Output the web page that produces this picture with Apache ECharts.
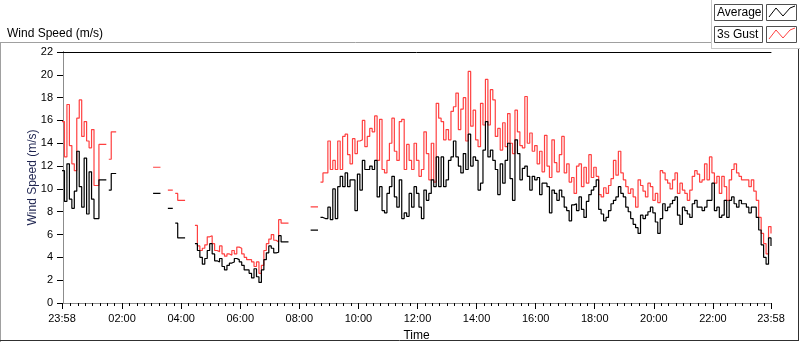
<!DOCTYPE html>
<html>
<head>
<meta charset="utf-8">
<script src="https://cdn.jsdelivr.net/npm/echarts@6/dist/echarts.min.js"></script>
<style>
html,body{margin:0;padding:0;background:#fff;}
#chart{width:800px;height:342px;}
</style>
</head>
<body>
<div id="chart"></div>
<script>
// Sampling of the series: minutes after 00:00 (first sample at 23:58 of the previous day)
const startMinute = -2;
const stepMinutes = 5;

// "Average" wind speed (m/s), one value per 5 minutes, null = no data
const averageSpeed = [
  11.6, 8.9, 12.2, 9.1, 8.3, 9.8, 13.3, 10.2, 8.4, 12.7, 7.8, 11.5, 9.1, 7.4, 7.4,
  10.8, 10.8, 10.8, null,
  9.9, 11.35, 11.35,
  null, null, null, null, null, null, null, null, null, null, null, null, null, null, null,
  9.6, 9.6, 9.6,
  null, null, null,
  8.3, 8.3,
  null,
  7.0, 5.7, 5.7, 5.7,
  null, null, null, null,
  5.2, 4.6, 4.0, 3.4, 3.9, 4.6, 5.2, 4.3, 3.7, 3.6,
  3.9, 3.2, 2.9, 3.3, 3.5, 3.6, 3.9, 3.8, 3.6, 3.3,
  2.9, 2.9, 2.6, 2.2, 3.0, 2.3, 1.8, 2.9, 3.8, 4.4,
  5.0, 4.8, 4.4,
  4.45, 5.9, 5.35, 5.35, 5.35,
  null, null, null, null, null, null, null, null, null,
  6.38, 6.38, 6.38,
  null,
  7.5, 7.4, 7.4, 8.4, 7.3, 10.0, 7.4, 10.2, 11.1, 10.2,
  11.4, 10.2, 10.8, 10.8, 8.1, 11.3, 9.9, 12.5, 11.7, 11.7,
  12.0, 11.7, 12.5, 9.3, 10.2, 8.1, 7.9, 9.6, 10.2, 11.1,
  9.3, 8.4, 10.8, 7.4, 7.9, 7.6, 9.6, 8.4, 10.2, 9.6,
  8.4, 7.4, 9.9, 9.0, 9.6, 10.8, 10.2, 12.8, 10.2, 12.8,
  10.2, 10.8, 12.5, 12.8, 14.2, 12.8, 12.0, 11.4, 13.1, 11.7,
  14.8, 12.0, 12.8, 12.5, 9.9, 10.5, 13.4, 15.9, 12.8, 13.4,
  12.5, 11.7, 9.5, 12.2, 10.5, 12.5, 14.0, 10.9, 9.0, 14.3,
  13.1, 10.8, 11.8, 12.0, 11.1, 9.9, 11.1, 10.8, 11.0, 9.5,
  10.5, 10.5, 10.2, 7.9, 9.9, 9.6, 9.0, 9.9, 9.3, 8.4,
  8.1, 7.2,
  8.6, 8.7, 8.1, 9.3, 8.2, 7.5, 8.9, 9.5, 9.9, 10.2,
  10.8, 8.2, 7.8, 7.2, 7.5, 8.1, 8.7, 9.0, 9.3, 10.2,
  9.6, 9.3, 8.4, 8.0, 7.4, 6.9, 6.6, 6.1, 7.7, 7.4,
  7.7, 8.0, 8.4, 7.9, 7.1, 6.1, 7.4, 8.7, 8.1, 8.4,
  8.7, 9.0, 9.3, 7.7, 6.9, 8.4, 8.1, 7.8, 7.5, 8.7,
  9.0, 8.4, 8.4, 8.1, 8.4, 9.0, 9.0, 10.5, 8.1, 8.4,
  7.5, 7.7, 9.0, 7.5, 9.0, 9.3, 8.7, 8.4, 9.0, 8.7,
  8.7, 8.4, 7.9, 8.4, 8.4, 7.5, 6.4, 5.1, 4.0, 3.4,
  5.7, 5.0
];

// "3s Gust" wind speed (m/s)
const gustSpeed = [
  15.9, 12.8, 17.4, 13.8, 12.2, 11.6, 16.2, 17.8, 14.6, 15.9, 14.2, 13.6, 15.2, 10.3, 10.3,
  13.9, 13.9, 13.9, null,
  12.6, 15.0, 15.0,
  null, null, null, null, null, null, null, null, null, null, null, null, null, null, null,
  11.9, 11.9, 11.9,
  null, null, null,
  9.9, 9.9,
  null,
  9.6, 9.0, 9.0, 9.0,
  null, null, null, null,
  6.8, 5.0, 4.6, 4.8, 5.1, 5.8, 5.9, 5.2, 4.6, 4.5,
  5.0, 4.3, 4.1, 4.3, 4.2, 4.6, 4.3, 4.9, 4.8, 4.3,
  4.0, 3.8, 3.8, 3.6, 3.2, 3.6, 2.6, 3.3, 4.6, 5.2,
  5.6, 6.0, 5.5,
  5.35, 7.3, 7.0, 7.0, 7.0,
  null, null, null, null, null, null, null, null, null,
  8.43, 8.43, 8.43,
  null,
  10.6, 11.4, 11.4, 14.2, 11.7, 12.5, 11.7, 14.2, 11.7, 14.6,
  14.8, 13.0, 12.2, 14.4, 13.1, 14.2, 14.3, 16.0, 13.7, 14.6,
  15.3, 15.0, 16.4, 12.5, 16.1, 11.7, 11.4, 12.5, 14.0, 16.2,
  13.3, 12.5, 15.9, 16.1, 11.7, 13.9, 12.5, 11.7, 14.0, 12.5,
  11.1, 11.7, 15.0, 13.1, 10.8, 14.0, 10.6, 17.5, 16.2, 15.9,
  14.3, 15.2, 14.3, 16.8, 17.2, 18.4, 15.2, 17.0, 18.0, 14.2,
  20.3, 15.5, 16.9, 14.3, 13.7, 17.5, 15.6, 19.6, 15.6, 18.7,
  17.8, 14.6, 15.3, 13.4, 15.8, 13.7, 16.6, 14.0, 13.1, 16.9,
  15.0, 13.8, 13.6, 18.1, 14.0, 14.9, 13.3, 13.8, 12.2, 13.3,
  11.5, 14.7, 12.0, 11.0, 14.3, 12.3, 11.5, 13.0, 14.6, 11.4,
  12.2, 10.6,
  11.0, 9.6, 12.0, 12.2, 10.2, 11.9, 10.5, 13.0, 11.0, 11.9,
  11.1, 9.5, 9.3, 10.1, 9.6, 10.3, 10.9, 12.5, 11.2, 13.3,
  11.4, 10.8, 10.2, 9.6, 10.0, 9.3, 8.4, 10.8, 10.3, 9.8,
  9.3, 10.5, 10.2, 9.0, 9.6, 8.8, 11.6, 11.4, 10.8, 10.5,
  10.0, 10.8, 11.4, 9.6, 10.5, 9.9, 9.6, 9.0, 9.9, 11.1,
  11.6, 11.3, 10.6, 10.8, 12.2, 10.8, 12.8, 11.4, 10.5, 11.1,
  9.6, 11.1, 10.2, 9.0, 10.8, 11.7, 12.2, 11.4, 11.1, 10.8,
  10.8, 10.8, 10.2, 10.8, 9.8, 9.0, 7.5, 6.1, 5.2, 4.3,
  6.7, 6.1
];

// x axis: major tick positions (minutes after 00:00) and their labels
const xTickMinutes = [-2, 120, 240, 360, 480, 600, 720, 840, 960, 1080, 1200, 1320, 1438];
const xTickLabels = ['23:58', '02:00', '04:00', '06:00', '08:00', '10:00', '12:00', '14:00', '16:00', '18:00', '20:00', '22:00', '23:58'];
const xMinorStep = 15;

const seriesNames = ['Average', '3s Gust'];

const xMin = startMinute;
const xMax = startMinute + 1440;
const minorTicks = [];
for (let m = xMinorStep; m < xMax; m += xMinorStep) {
  if (m % 120 !== 0) minorTicks.push(m);
}
const toPairs = arr => arr.map((v, i) => [startMinute + i * stepMinutes, v]);

const FONT = 'Liberation Sans';
const chart = echarts.init(document.getElementById('chart'), null, {renderer: 'canvas'});

const zig = (x0, y0) => [[x0, y0 + 12], [x0 + 7, y0 + 3], [x0 + 14, y0 + 11], [x0 + 21, y0 + 3], [x0 + 26, y0 + 1]];

const option = {
  animation: false,
  backgroundColor: '#fff',
  title: {
    text: 'Wind Speed (m/s)',
    left: 2, top: 23,
    textStyle: {fontFamily: FONT, fontSize: 12, fontWeight: 'normal', color: '#000'}
  },
  grid: {left: 62, right: 29, top: 52, bottom: 39, containLabel: false, outerBoundsMode: 'none'},
  xAxis: [
    {
      type: 'value', min: xMin, max: xMax, position: 'bottom',
      name: 'Time', nameLocation: 'middle', nameGap: 27, nameMoveOverlap: false,
      nameTextStyle: {fontFamily: FONT, fontSize: 12, color: '#000'},
      axisLine: {show: true, lineStyle: {color: '#8c8c8c', width: 1}},
      axisTick: {show: true, length: 6, customValues: xTickMinutes, lineStyle: {color: '#000', width: 1}},
      axisLabel: {
        show: true, customValues: xTickMinutes, margin: 10,
        fontFamily: FONT, fontSize: 11, color: '#000',
        formatter: v => {
          const k = xTickMinutes.indexOf(v);
          return k >= 0 ? xTickLabels[k] : '';
        }
      },
      splitLine: {show: false}
    },
    {
      type: 'value', min: xMin, max: xMax, position: 'bottom',
      axisLine: {show: false},
      axisTick: {show: true, length: 3, customValues: minorTicks, lineStyle: {color: '#000', width: 1}},
      axisLabel: {show: false},
      splitLine: {show: false}
    },
    {
      type: 'value', min: xMin, max: xMax, position: 'top',
      axisLine: {show: true, lineStyle: {color: '#000', width: 1}},
      axisTick: {show: false}, axisLabel: {show: false}, splitLine: {show: false}
    }
  ],
  yAxis: [
    {
      type: 'value', min: 0, max: 22, interval: 2, position: 'left',
      name: 'Wind Speed (m/s)', nameLocation: 'middle', nameGap: 23, nameRotate: 90, nameMoveOverlap: false,
      nameTextStyle: {fontFamily: FONT, fontSize: 12, color: '#1e2450'},
      axisLine: {show: true, lineStyle: {color: '#000', width: 1}},
      axisTick: {show: true, length: 6, lineStyle: {color: '#000', width: 1}},
      axisLabel: {margin: 9, fontFamily: FONT, fontSize: 11, color: '#000'},
      splitLine: {show: false}
    },
    {
      type: 'value', min: 0, max: 22, position: 'right',
      axisLine: {show: true, lineStyle: {color: '#8c8c8c', width: 1}},
      axisTick: {show: false}, axisLabel: {show: false}, splitLine: {show: false}
    }
  ],
  series: [
    {
      name: seriesNames[1], type: 'line', step: 'end',
      xAxisIndex: 0, yAxisIndex: 0,
      data: toPairs(gustSpeed),
      showSymbol: false, symbol: 'none', connectNulls: false,
      lineStyle: {color: '#ff4040', width: 1.2},
      itemStyle: {color: '#ff4040'},
      z: 2
    },
    {
      name: seriesNames[0], type: 'line', step: 'end',
      xAxisIndex: 0, yAxisIndex: 0,
      data: toPairs(averageSpeed),
      showSymbol: false, symbol: 'none', connectNulls: false,
      lineStyle: {color: '#000', width: 1.2},
      itemStyle: {color: '#000'},
      z: 3
    }
  ],
  graphic: [
    // outer panel frame
    {type: 'line', shape: {x1: 0, y1: 42.5, x2: 711, y2: 42.5}, style: {stroke: '#a0a0a0', lineWidth: 1}, silent: true},
    {type: 'line', shape: {x1: 0.5, y1: 42, x2: 0.5, y2: 342}, style: {stroke: '#a0a0a0', lineWidth: 1}, silent: true},
    {type: 'line', shape: {x1: 0, y1: 340.5, x2: 799, y2: 340.5}, style: {stroke: '#303030', lineWidth: 1}, silent: true},
    {type: 'line', shape: {x1: 798.5, y1: 48, x2: 798.5, y2: 341}, style: {stroke: '#303030', lineWidth: 1}, silent: true},
    // legend panel frame
    {type: 'line', shape: {x1: 711.5, y1: 0, x2: 711.5, y2: 48}, style: {stroke: '#c8c8c8', lineWidth: 1}, silent: true},
    {type: 'line', shape: {x1: 711, y1: 48.5, x2: 800, y2: 48.5}, style: {stroke: '#c8c8c8', lineWidth: 1}, silent: true},
    // legend entry: Average
    {type: 'rect', shape: {x: 714.5, y: 4.5, width: 48, height: 16}, style: {fill: '#fff', stroke: '#505050', lineWidth: 1}, silent: true},
    {type: 'text', x: 717, y: 12.5, style: {text: seriesNames[0], fontFamily: FONT, fontSize: 12, fill: '#000', verticalAlign: 'middle', align: 'left'}, silent: true},
    {type: 'rect', shape: {x: 766.5, y: 4.5, width: 30, height: 16}, style: {fill: '#fff', stroke: '#505050', lineWidth: 1}, silent: true},
    {type: 'polyline', shape: {points: zig(769, 5)}, style: {stroke: '#000', lineWidth: 1, fill: null}, silent: true},
    // legend entry: 3s Gust
    {type: 'rect', shape: {x: 714.5, y: 26.5, width: 48, height: 16}, style: {fill: '#fff', stroke: '#505050', lineWidth: 1}, silent: true},
    {type: 'text', x: 717, y: 34.5, style: {text: seriesNames[1], fontFamily: FONT, fontSize: 12, fill: '#000', verticalAlign: 'middle', align: 'left'}, silent: true},
    {type: 'rect', shape: {x: 766.5, y: 26.5, width: 30, height: 16}, style: {fill: '#fff', stroke: '#505050', lineWidth: 1}, silent: true},
    {type: 'polyline', shape: {points: zig(769, 27)}, style: {stroke: '#ff4040', lineWidth: 1, fill: null}, silent: true}
  ]
};
chart.setOption(option);
</script>
</body>
</html>
